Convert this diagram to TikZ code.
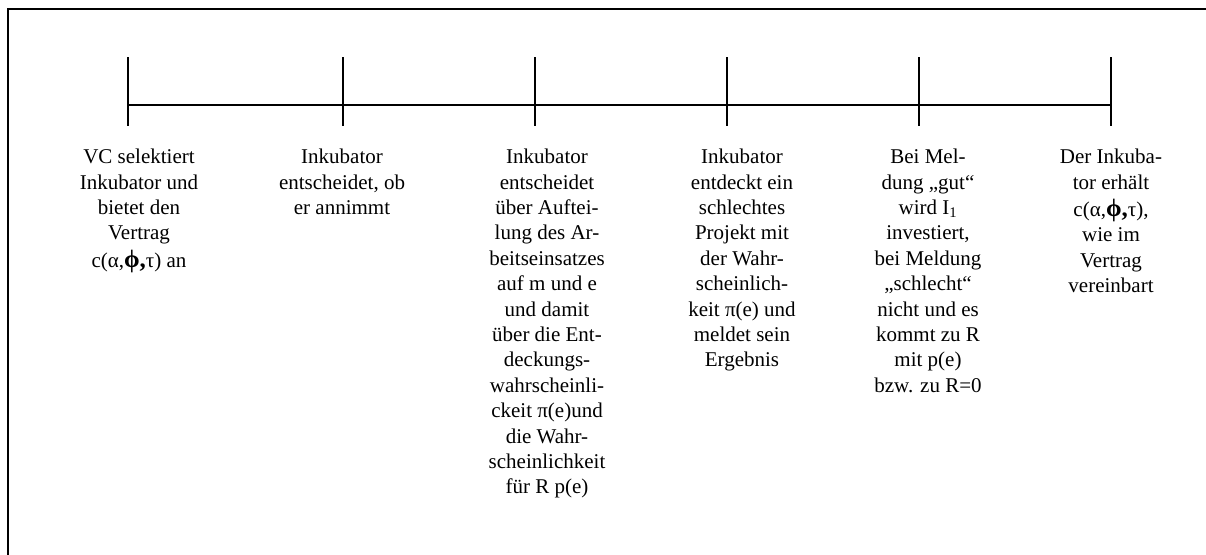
\documentclass[tikz,border=0pt]{standalone}
\usepackage{fontspec}
\setmainfont{Liberation Serif}
\newcommand{\bphi}{{\bfseries\fontsize{25}{25.4}\selectfont ϕ,}}
\begin{document}
\begin{tikzpicture}[x=1pt,y=-1pt,
  frame/.style={line width=2pt,black},
  axis/.style={line width=2.4pt,black},
  tick/.style={line width=1.8pt,black},
  lbl/.style={anchor=north,inner sep=0pt,align=center,
    font=\fontsize{21}{25.4}\selectfont}]
\useasboundingbox (0,0) rectangle (1206,554);
\fill[white] (0,0) rectangle (1206,554);
% frame (only top and left edges visible)
\coordinate (fTR) at (1210,8.5);
\coordinate (fTL) at (7.5,8.5);
\coordinate (fBL) at (7.5,560);
\draw[frame] (fTR) -- (fTL) -- (fBL);
% ticks
\foreach \i/\x in {1/128,2/343,3/535,4/727,5/919,6/1111}{
  \coordinate (k\i) at (\x,105);
  \coordinate (top\i) at (\x,57);
  \coordinate (bot\i) at (\x,126);
  \draw[tick] (top\i) -- (bot\i);
}
\draw[axis] (k1) -- (k6);
% labels
\node[lbl] (l1) at (139,149) {VC selektiert\\Inkubator und\\bietet den\\Vertrag\\[2pt]c(α,\bphi τ) an};
\node[lbl] (l2) at (342,149) {Inkubator\\entscheidet, ob\\er annimmt};
\node[lbl] (l3) at (547,149) {Inkubator\\entscheidet\\über Auftei-\\lung des Ar-\\beitseinsatzes\\auf m und e\\und damit\\über die Ent-\\deckungs-\\wahrscheinli-\\ckeit π(e)und\\die Wahr-\\scheinlichkeit\\für R p(e)};
\node[lbl] (l4) at (742,149) {Inkubator\\entdeckt ein\\schlechtes\\Projekt mit\\der Wahr-\\scheinlich-\\keit π(e) und\\meldet sein\\Ergebnis};
\node[lbl] (l5) at (928,149) {Bei Mel-\\dung „gut“\\wird I\textsubscript{1}\\investiert,\\bei Meldung\\„schlecht“\\nicht und es\\kommt zu R\\mit p(e)\\bzw. zu R=0};
\node[lbl] (l6) at (1111,149) {Der Inkuba-\\tor erhält\\[2pt]c(α,\bphi τ),\\wie im\\Vertrag\\vereinbart};
\end{tikzpicture}
\end{document}
